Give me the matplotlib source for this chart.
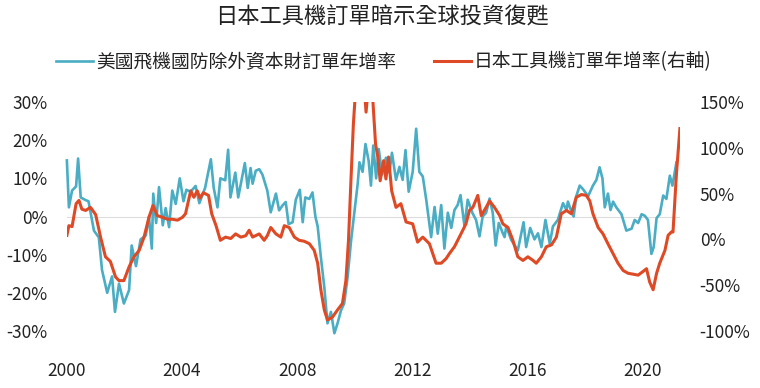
import matplotlib.pyplot as plt
from matplotlib.ticker import FuncFormatter

plt.rcParams['font.family'] = ['Noto Sans CJK TC', 'DejaVu Sans']

# 美國飛機國防除外資本財訂單年增率 (左軸, %)
us_t = [2000.00, 2000.07, 2000.18, 2000.32, 2000.39, 2000.48, 2000.65, 2000.75, 2000.94, 2001.11,
        2001.22, 2001.40, 2001.57, 2001.67, 2001.81, 2001.98, 2002.16, 2002.25, 2002.40, 2002.56,
        2002.74, 2002.85, 2002.95, 2003.00, 2003.10, 2003.20, 2003.33, 2003.43, 2003.55, 2003.66,
        2003.78, 2003.92, 2004.05, 2004.15, 2004.30, 2004.47, 2004.60, 2004.80, 2005.00, 2005.10,
        2005.23, 2005.33, 2005.50, 2005.60, 2005.68, 2005.85, 2005.95, 2006.18, 2006.28, 2006.38,
        2006.45, 2006.56, 2006.68, 2006.79, 2006.96, 2007.08, 2007.26, 2007.37, 2007.49, 2007.60,
        2007.70, 2007.84, 2007.95, 2008.09, 2008.19, 2008.28, 2008.42, 2008.53, 2008.63, 2008.71,
        2008.82, 2008.94, 2009.05, 2009.17, 2009.29, 2009.40, 2009.52, 2009.63, 2009.75, 2009.87,
        2009.98, 2010.10, 2010.16, 2010.27, 2010.37, 2010.48, 2010.56, 2010.64, 2010.74, 2010.83,
        2010.95, 2011.08, 2011.20, 2011.29, 2011.43, 2011.55, 2011.66, 2011.76, 2011.87, 2012.01,
        2012.13, 2012.24, 2012.36, 2012.48, 2012.65, 2012.77, 2012.88, 2013.00, 2013.11, 2013.23,
        2013.35, 2013.46, 2013.57, 2013.67, 2013.81, 2013.92, 2014.08, 2014.21, 2014.33, 2014.44,
        2014.56, 2014.68, 2014.79, 2014.89, 2015.00, 2015.14, 2015.20, 2015.26, 2015.43, 2015.66,
        2015.86, 2015.95, 2016.09, 2016.24, 2016.36, 2016.48, 2016.62, 2016.77, 2016.88, 2017.05,
        2017.23, 2017.35, 2017.40, 2017.52, 2017.60, 2017.69, 2017.81, 2017.92, 2018.10, 2018.27,
        2018.39, 2018.50, 2018.60, 2018.68, 2018.79, 2018.88, 2018.97, 2019.08, 2019.26, 2019.43,
        2019.61, 2019.72, 2019.84, 2019.96, 2020.07, 2020.18, 2020.30, 2020.38, 2020.48, 2020.59,
        2020.71, 2020.82, 2020.94, 2021.03, 2021.17]
us_v = [14.7, 2.4, 6.8, 7.9, 15.2, 5.0, 4.3, 4.0, -3.7, -5.5,
        -14.0, -20.0, -15.7, -25.0, -17.6, -22.8, -19.3, -7.6, -13.0, -6.0,
        -5.0, 0.0, -8.4, 6.0, -1.7, 7.7, -2.3, 2.2, -2.8, 6.8,
        3.3, 10.0, 4.0, 7.0, 6.5, 8.0, 3.5, 7.5, 15.0, 7.5,
        2.4, 10.0, 9.5, 17.5, 5.0, 11.5, 5.0, 14.0, 7.5, 12.7,
        8.6, 12.0, 12.4, 11.0, 6.8, 1.1, 6.0, 1.6, 2.9, 3.8,
        -2.0, -1.5, 4.4, 7.0, -1.5, 5.0, 4.6, 6.3, 0.0, -2.6,
        -10.6, -18.5, -28.0, -25.0, -30.6, -28.0, -24.6, -22.8, -15.8, -6.3,
        0.8, 8.6, 14.2, 11.7, 19.0, 14.6, 8.1, 18.6, 10.0, 17.7,
        11.0, 15.4, 11.5, 16.7, 9.6, 13.0, 9.6, 17.4, 6.5, 11.7,
        23.0, 11.7, 10.5, 4.4, -5.4, 2.5, -4.5, 3.0, -8.4, 1.0,
        -3.0, 1.7, 3.0, 5.6, -2.6, 4.4, 1.0, -0.9, -5.2, 0.0,
        1.0, 4.7, 1.0, -7.6, -1.7, -4.4, -5.4, -2.6, -6.1, -8.9,
        -1.5, -8.0, -3.0, -6.0, -4.4, -8.0, -0.9, -7.1, -2.6, -0.9,
        3.5, 1.7, 3.9, 1.3, 0.0, 5.3, 8.1, 7.2, 5.3, 8.1,
        9.6, 12.9, 10.0, 2.4, 6.0, 1.7, 3.9, 2.4, 0.6, -3.7,
        -3.2, -0.9, -1.7, 0.6, 0.2, -0.9, -9.8, -8.0, -0.4, 0.6,
        5.5, 4.6, 10.7, 8.1, 14.2]

# 日本工具機訂單年增率 (右軸, %)
jp_t = [2000.00, 2000.07, 2000.18, 2000.32, 2000.42, 2000.52, 2000.65, 2000.82, 2001.00, 2001.17,
        2001.34, 2001.51, 2001.69, 2001.81, 2001.98, 2002.16, 2002.33, 2002.51, 2002.68, 2002.85,
        2002.99, 2003.14, 2003.33, 2003.50, 2003.66, 2003.84, 2004.01, 2004.12, 2004.30, 2004.41,
        2004.53, 2004.62, 2004.74, 2004.92, 2005.03, 2005.18, 2005.33, 2005.51, 2005.69, 2005.86,
        2006.04, 2006.21, 2006.33, 2006.45, 2006.68, 2006.85, 2006.96, 2007.08, 2007.26, 2007.43,
        2007.55, 2007.72, 2007.90, 2008.07, 2008.24, 2008.42, 2008.59, 2008.71, 2008.82, 2008.94,
        2009.05, 2009.22, 2009.40, 2009.57, 2009.69, 2009.78, 2009.87, 2009.95, 2010.05, 2010.20,
        2010.33, 2010.39, 2010.45, 2010.62, 2010.72, 2010.80, 2010.88, 2011.00, 2011.08, 2011.17,
        2011.28, 2011.43, 2011.60, 2011.78, 2012.01, 2012.18, 2012.36, 2012.59, 2012.82, 2013.00,
        2013.17, 2013.28, 2013.46, 2013.63, 2013.86, 2013.98, 2014.10, 2014.27, 2014.39, 2014.56,
        2014.68, 2014.85, 2015.03, 2015.14, 2015.32, 2015.49, 2015.66, 2015.84, 2016.01, 2016.19,
        2016.30, 2016.48, 2016.65, 2016.83, 2017.00, 2017.17, 2017.35, 2017.52, 2017.69, 2017.87,
        2018.04, 2018.16, 2018.27, 2018.45, 2018.62, 2018.79, 2018.97, 2019.14, 2019.32, 2019.49,
        2019.67, 2019.84, 2020.01, 2020.13, 2020.24, 2020.36, 2020.48, 2020.59, 2020.77, 2020.88,
        2020.99, 2021.05, 2021.17, 2021.29]
jp_v = [4.4, 15, 14, 39, 42.6, 33, 31.6, 35, 27, 2.5,
        -19, -24, -41, -45, -45, -30, -19, -12, 2.5, 24,
        37, 26, 24, 22, 22, 21, 24, 28, 53, 46,
        53, 45, 51, 48, 28, 15, -1, 2.5, 1, 6,
        2.5, 4, 10, 2.5, 6, -1, 4, 13, 6, 2.5,
        15, 13, 2.5, -1, -2, -4.7, -12, -26, -55, -77,
        -88, -85, -77, -70, -45, -1, 68, 126, 175, 190,
        165, 139, 160, 155, 104, 90, 64, 86, 66, 90,
        53, 35, 39, 19, 17, -3, 2.5, -4.7, -26, -26,
        -21, -15.7, -8, 2.5, 17, 31.6, 35, 48, 26, 35,
        42, 35, 26, 17, 13, -1, -19, -23, -19, -23,
        -26, -19, -8, -6, 2.5, 28, 31.6, 28, 46, 49,
        48, 42, 28, 13, 6, -4.7, -15.7, -26, -34, -37,
        -38, -39, -35, -32, -46.6, -55, -37, -26, -12, 4.4,
        8, 8, 72, 121]

year_ticks = [2000, 2004, 2008, 2012, 2016, 2020]
left_ticks = [-30, -20, -10, 0, 10, 20, 30]
right_ticks = [-100, -50, 0, 50, 100, 150]

teal = '#4AADC4'
red = '#DE4A25'
txt = '#222222'

fig = plt.figure(figsize=(7.6, 3.88), dpi=100)
ax = fig.add_axes([0.088, 0.147, 0.807, 0.590])
ax2 = ax.twinx()

ax.axhline(0, color='#dddddd', lw=0.8, zorder=0)
l1, = ax.plot(us_t, us_v, color=teal, lw=1.9, clip_on=False, zorder=2,
              label='美國飛機國防除外資本財訂單年增率')
l2, = ax2.plot(jp_t, jp_v, color=red, lw=2.2, zorder=3,
               label='日本工具機訂單年增率(右軸)')

ax.set_xlim(2000.0, 2021.3)
ax.set_ylim(-30, 30)
ax2.set_ylim(-100, 150)
ax.set_xticks(year_ticks)
ax.set_yticks(left_ticks)
ax2.set_yticks(right_ticks)
pct = FuncFormatter(lambda v, p: f'{v:.0f}%')
ax.yaxis.set_major_formatter(pct)
ax2.yaxis.set_major_formatter(pct)

for a in (ax, ax2):
    for s in a.spines.values():
        s.set_visible(False)
    a.tick_params(length=0, labelsize=12.5, colors=txt)
ax.tick_params(axis='y', pad=14)
ax2.tick_params(axis='y', pad=14)
ax.tick_params(axis='x', pad=22)

fig.text(0.503, 0.955, '日本工具機訂單暗示全球投資復甦', ha='center', va='center',
         fontsize=16, color=txt)
fig.legend(handles=[l1, l2], loc='center', bbox_to_anchor=(0.505, 0.84), ncol=2,
           frameon=False, fontsize=13.5, handlelength=2.0, handletextpad=0.15,
           columnspacing=2.0, labelcolor=txt)

fig.savefig('out.png', dpi=100)
